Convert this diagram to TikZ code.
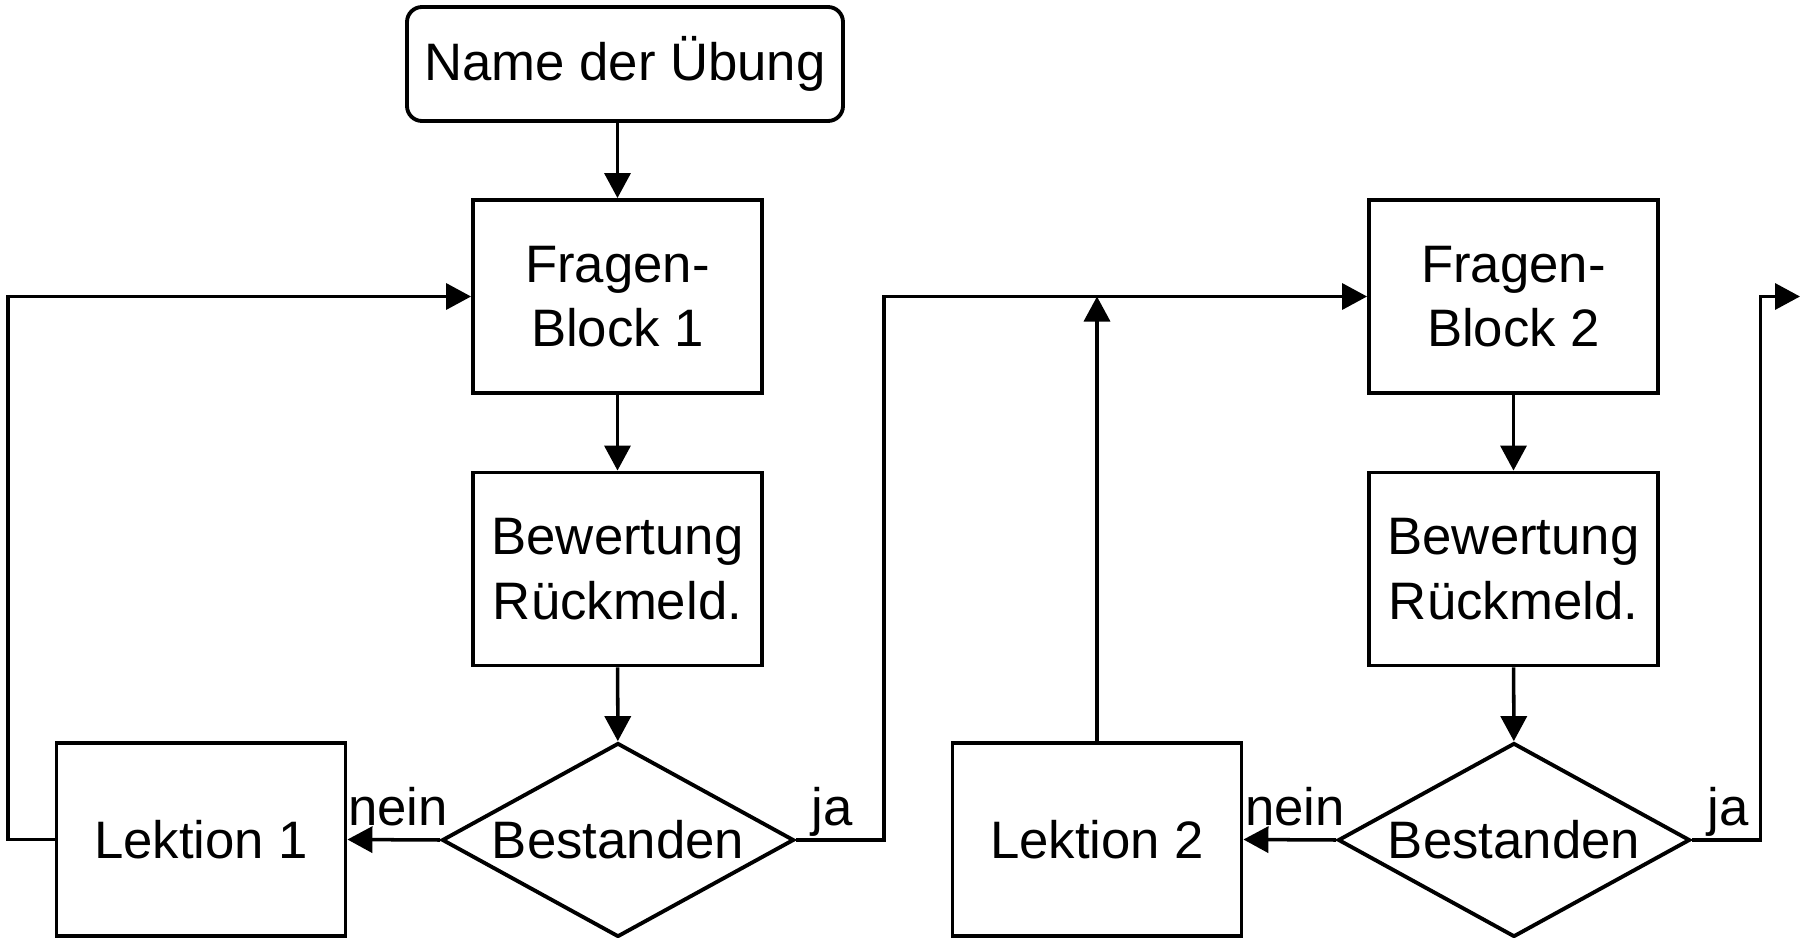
\documentclass[tikz,border=0pt]{standalone}
\usepackage{fontspec}
\setmainfont{Liberation Sans}
\usetikzlibrary{arrows.meta,shapes.geometric}

\begin{document}
\begin{tikzpicture}[
    kasten/.style={draw, line width=1.1pt, minimum width=2.89cm, minimum height=1.93cm, align=center, inner sep=0pt},
    raute/.style={draw, diamond, line width=1.1pt, minimum width=3.52cm, minimum height=1.94cm, aspect=1.8, inner sep=0pt},
    pfeil/.style={line width=1pt, arrows={-Triangle[length=2.5mm,width=2.6mm]}},
    font=\fontsize{15}{18.3}\selectfont
  ]
                \useasboundingbox (0,0) rectangle (18.06,9.37);

                % erster Block
                \node[kasten, rounded corners=0.15cm, minimum width=4.36cm, minimum height=1.14cm] (name) at (6.25,8.73) {Name der Übung};
                \node[kasten] (frag1) at (6.175,6.405) {Fragen-\\Block 1};
                \node[kasten] (bew1) at (6.175,3.68) {Bewertung\\Rückmeld.};
                \node[raute] (dia1) at (6.18,0.97) {Bestanden};
                \node[kasten] (lek1) at (2.01,0.975) {Lektion 1};

                % zweiter Block
                \node[kasten] (frag2) at (15.135,6.405) {Fragen-\\Block 2};
                \node[kasten] (bew2) at (15.135,3.68) {Bewertung\\Rückmeld.};
                \node[raute] (dia2) at (15.14,0.97) {Bestanden};
                \node[kasten] (lek2) at (10.97,0.975) {Lektion 2};
                \coordinate (weiter) at (18.00,6.405);

                \draw[pfeil] (name.south -| frag1.north) -- (frag1.north);
                \draw[pfeil] (frag1) -- (bew1);
                \draw[pfeil] (bew1) -- (dia1);
                \draw[pfeil] (dia1.west) -- (lek1.east);
                \draw[pfeil] (lek1.west) -- ++(-0.465,0) |- (frag1.west);
                \draw[pfeil] (dia1.east) -- ++(0.88,0) |- (frag2.west);

                \draw[pfeil] (frag2) -- (bew2);
                \draw[pfeil] (bew2) -- (dia2);
                \draw[pfeil] (dia2.west) -- (lek2.east);
                \draw[pfeil] (lek2.north) -- (lek2.north |- frag2.west);
                \draw[pfeil] (dia2.east) -- ++(0.685,0) |- (weiter);

                \node[anchor=base] (nein1) at (3.98,1.12) {nein};
                \node[anchor=base] (ja1) at (8.32,1.12) {ja};
                \node[anchor=base] (nein2) at (12.95,1.12) {nein};
                \node[anchor=base] (ja2) at (17.28,1.12) {ja};
\end{tikzpicture}
\end{document}
